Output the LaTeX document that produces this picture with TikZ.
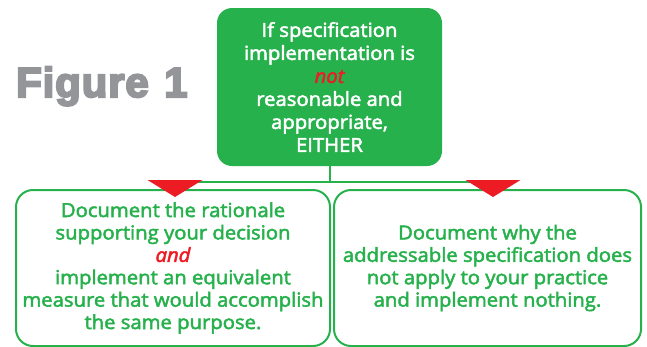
\documentclass[tikz,border=0pt]{standalone}
\usepackage{fontspec}
\usetikzlibrary{calc}
% box lettering: Open Sans, slightly widened and thickened
\font\boxrm="Open Sans:embolden=2.5;extend=1.05" at 19.3pt
\font\boxit="Open Sans/I:embolden=2.5;extend=1.05" at 19.3pt
% heavy caption lettering, spaced out to keep the letters apart
\font\capfont="Liberation Sans/B:embolden=5;letterspace=2" at 42pt
\newcommand{\decisionfont}{\boxrm\baselineskip 23pt\relax}
\newcommand{\optionfont}{\boxrm\baselineskip 22.4pt\relax}
\definecolor{leafgreen}{HTML}{27B14C}
\definecolor{alertred}{HTML}{ED1C24}
\definecolor{labelgray}{HTML}{939598}
\newcommand{\stress}[1]{{\color{alertred}\boxit #1}}
\begin{document}
\begin{tikzpicture}[x=1pt,y=-1pt,
  decisionbox/.style={rectangle, rounded corners=15pt, fill=leafgreen, text=white,
    align=center, inner sep=0pt, font=\decisionfont},
  optionbox/.style={rectangle, rounded corners=17pt, draw=leafgreen, line width=2pt,
    text=leafgreen, align=center, inner sep=0pt, font=\optionfont},
  link/.style={draw=leafgreen, line width=2pt},
  pointer/.style={fill=alertred}]
\useasboundingbox (0,0) rectangle (647,346);

% caption
\node[anchor=base west, text=labelgray, font=\capfont, inner sep=0pt]
  (caption) at (16,97) {Figure\hspace{3pt} 1};

% decision box
\node[decisionbox, minimum width=225pt, minimum height=158pt] (decide) at (329.5,87)
  {If specification\\implementation is\\\stress{not}\\reasonable and\\appropriate,\\EITHER};

% the two options
\node[optionbox, minimum width=314pt, minimum height=156pt] (optA) at (173,268)
  {Document the rationale\\supporting your decision\\\stress{and}\\implement an equivalent\\measure that would accomplish\\the same purpose.};
\node[optionbox, minimum width=307pt, minimum height=156pt] (optB) at (487.5,268)
  {Document why the\\addressable specification does\\not apply to your practice\\and implement nothing.};

% branching connector
\coordinate (junction) at (decide.south |- 0,182);
\coordinate (branchA) at (175,182);
\coordinate (branchB) at (493,182);
\draw[link] (decide.south) -- (junction);
\draw[link] (branchA) -- (branchB);

% red pointers at both branch ends
\foreach \p in {branchA,branchB}
  \fill[pointer] ($(\p)+(-27.5,-2)$) -- ($(\p)+(27.5,-2)$) -- ($(\p)+(0,15)$) -- cycle;
\end{tikzpicture}
\end{document}
